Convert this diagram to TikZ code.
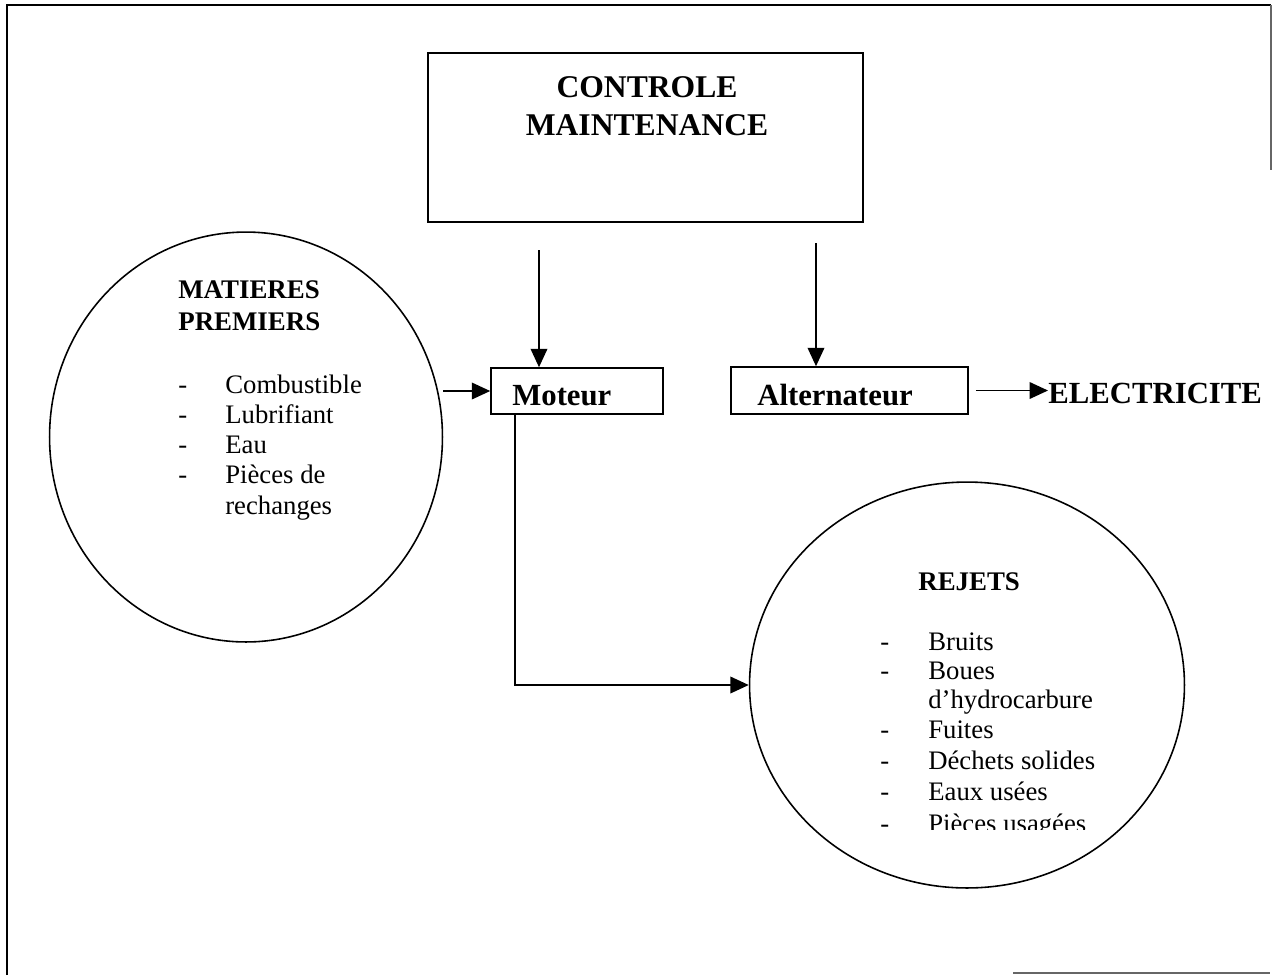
\documentclass[tikz,border=0pt]{standalone}
\usepackage{fontspec}
\setmainfont{Liberation Serif}
\usetikzlibrary{shapes.geometric,arrows.meta}
\tikzset{
 box/.style={draw, line width=0.9pt, inner sep=0pt},
 ell/.style={draw, ellipse, line width=0.9pt, inner sep=0pt},
 arr/.style={line width=0.9pt, -{Triangle[length=10.5pt,width=9.5pt]}},
 big/.style={font=\fontsize{18}{21}\selectfont\bfseries, inner sep=0pt, anchor=base},
 mid/.style={font=\fontsize{17.5}{20}\selectfont\bfseries, inner sep=0pt, anchor=base west},
 head/.style={font=\fontsize{15.3}{18}\selectfont\bfseries, inner sep=0pt, anchor=base west},
 item/.style={font=\fontsize{15.2}{18}\selectfont, inner sep=0pt, anchor=base west},
 frame/.style={line width=1.1pt}
}
\begin{document}
\begin{tikzpicture}[x=0.02cm,y=-0.02cm]
\useasboundingbox (0,0) rectangle (1272,975);
\draw[frame] (7,975) -- (7,5) -- (1271,5);
\draw[line width=0.6pt, black!60] (1271,5) -- (1271,170);
\draw[line width=0.6pt, black!60] (1013,973) -- (1270,973);

% control box
\node[box, minimum width=8.7cm, minimum height=3.38cm] (ctl) at (645.5,137.5) {};
\node[big] (ctlA) at (647,97) {CONTROLE};
\node[big] (ctlB) at (647,135) {MAINTENANCE};

% moteur / alternateur
\node[box, minimum width=3.44cm, minimum height=0.92cm] (mot) at (577,391) {};
\node[mid] (motT) at (512,405) {Moteur};
\node[box, minimum width=4.74cm, minimum height=0.94cm] (alt) at (849.5,390.5) {};
\node[mid] (altT) at (757,405) {Alternateur};
\node[mid] (elec) at (1048,403) {ELECTRICITE};

% ellipses
\node[ell, minimum width=7.86cm, minimum height=8.2cm] (mp) at (246,437) {};
\node[ell, minimum width=8.7cm, minimum height=8.12cm] (rej) at (967,685) {};

% matieres premieres text
\node[head] (mpA) at (178,298) {MATIERES};
\node[head] (mpB) at (178,330) {PREMIERS};
\foreach \t/\y [count=\i] in {Combustible/393, Lubrifiant/423, Eau/453, Pièces de/483} {
  \node[item] (mpd\i) at (178,\y) {-};
  \node[item] (mpi\i) at (225,\y) {\t};
}
\node[item] (mpi5) at (225,514) {rechanges};

% rejets text
\node[head] (rejA) at (918,590) {REJETS};
\foreach \t/\y [count=\i] in {Bruits/650, Boues/679, Fuites/738, Déchets solides/769, Eaux usées/800} {
  \node[item] (rejd\i) at (880,\y) {-};
  \node[item] (reji\i) at (928,\y) {\t};
}
\node[item] (rejh) at (928,708) {d’hydrocarbure};
\node[item] (rejd6) at (880,832) {-};
\begin{scope}
  \clip (900,790) rectangle (1150,829);
  \node[item] (reji6) at (928,832) {Pièces usagées};
\end{scope}

% connectors
\coordinate (a1) at (539,250);
\draw[arr] (a1) -- (a1 |- mot.north);
\coordinate (a2) at (816,243);
\draw[arr] (a2) -- (a2 |- alt.north);
\draw[arr] (mp.east |- mot.west) -- (mot.west);
\coordinate (a3) at (515,680);
\draw[arr] (mot.south -| a3) |- (rej.west);
\draw[arr] ([xshift=0.14cm]alt.east) -- (alt.east -| elec.west);
\end{tikzpicture}
\end{document}
